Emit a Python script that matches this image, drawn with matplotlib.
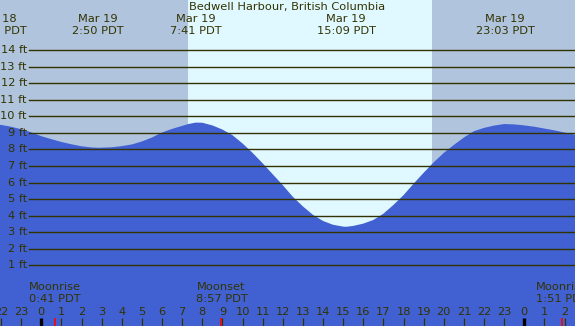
import matplotlib
matplotlib.use("Agg")
from matplotlib import pyplot as plt

# tide heights (ft), hours from midnight Mar 19
hours = [-2.5, -2, -1.5, -1, -0.5, 0, 0.5, 1, 1.5, 2, 2.5, 2.83, 3.5, 4, 4.5, 5, 5.5,
         6, 6.5, 7, 7.3, 7.68, 8, 8.5, 9, 9.5, 10, 10.5, 11, 11.5, 12, 12.5, 13,
         13.5, 14, 14.5, 15, 15.15, 15.5, 16, 16.5, 17, 17.5, 18, 18.5, 19, 19.5,
         20, 20.5, 21, 21.5, 22, 22.5, 23, 23.05, 23.5, 24, 24.5, 25, 25.5, 26,
         26.5, 27]
heights = [9.46, 9.48, 9.37, 9.22, 9.03, 8.80, 8.62, 8.45, 8.31, 8.19, 8.12, 8.10,
           8.13, 8.20, 8.30, 8.48, 8.72, 9.02, 9.24, 9.42, 9.53, 9.62, 9.61, 9.45,
           9.20, 8.86, 8.36, 7.79, 7.16, 6.50, 5.84, 5.14, 4.56, 4.05, 3.68, 3.45,
           3.34, 3.33, 3.38, 3.52, 3.74, 4.12, 4.65, 5.24, 5.93, 6.59, 7.22, 7.79,
           8.27, 8.72, 9.10, 9.30, 9.44, 9.53, 9.53, 9.51, 9.45, 9.37, 9.26, 9.15,
           9.02, 8.90, 8.78]

title = "Bedwell Harbour, British Columbia"
tide_times = [-2.2, 2.83, 7.68, 15.15, 23.05]
tide_day = ["Mar 18", "Mar 19", "Mar 19", "Mar 19", "Mar 19"]
tide_clock = ["21:49 PDT", "2:50 PDT", "7:41 PDT", "15:09 PDT", "23:03 PDT"]

moon_times = [0.683, 8.95, 25.85]
moon_names = ["Moonrise", "Moonset", "Moonrise"]
moon_clock = ["0:41 PDT", "8:57 PDT", "1:51 PDT"]

sunrise = 7.29
sunset = 19.42
ft_levels = list(range(1, 15))
hour_ticks = list(range(-2, 27))

W, H = 575, 326
x0, x1 = -2.052, 26.52
night = "#b0c4de"
day = "#e0f8ff"
water = "#4161d3"
ink = "#333300"
fs = 8.2

fig = plt.figure(figsize=(W / 100, H / 100), dpi=100)
ax = fig.add_axes([0, 0, 1, 1])
ax.set_xlim(x0, x1)
ax.set_ylim(-2.66, 17.02)
ax.axis("off")

ax.axvspan(x0 - 1, sunrise, color=night, lw=0, zorder=0)
ax.axvspan(sunrise, sunset, color=day, lw=0, zorder=0)
ax.axvspan(sunset, x1 + 1, color=night, lw=0, zorder=0)

ax.fill_between(hours, heights, -5, color=water, lw=0, zorder=1)

for lv in ft_levels:
    ax.axhline(lv, xmin=29 / W, xmax=1, color=ink, lw=1.0, zorder=2)
    ax.text(27 / W, lv, "%d ft" % lv, ha="right", va="center", fontsize=fs,
            color=ink, transform=ax.get_yaxis_transform(), zorder=3)

xt = ax.get_xaxis_transform()


def fy(px):
    return 1 - px / H


ax.text((x0 + x1) / 2, fy(7), title, ha="center", va="center", fontsize=fs,
        color=ink, transform=xt)
# high/low labels run off the edges, as in the original
for t, d, c in zip(tide_times, tide_day, tide_clock):
    ax.text(t, fy(18.5), d, ha="center", va="center", fontsize=fs, color=ink, transform=xt)
    ax.text(t, fy(31.5), c, ha="center", va="center", fontsize=fs, color=ink, transform=xt)

for t, n, c in zip(moon_times, moon_names, moon_clock):
    ax.text(t, fy(287.5), n, ha="center", va="center", fontsize=fs, color=ink, transform=xt)
    ax.text(t, fy(299.5), c, ha="center", va="center", fontsize=fs, color=ink, transform=xt)
    ax.vlines(t, 0, 8 / H, color="red", lw=1.2, transform=xt, zorder=4)

for h in hour_ticks:
    ax.text(h, fy(312), str(h % 24), ha="center", va="center", fontsize=fs,
            color=ink, transform=xt)
    thick = h % 24 == 0
    ax.vlines(h, 0, 8 / H, color="black" if thick else ink,
              lw=2.4 if thick else 0.9, transform=xt, zorder=3)

fig.savefig("out.png", dpi=100)
